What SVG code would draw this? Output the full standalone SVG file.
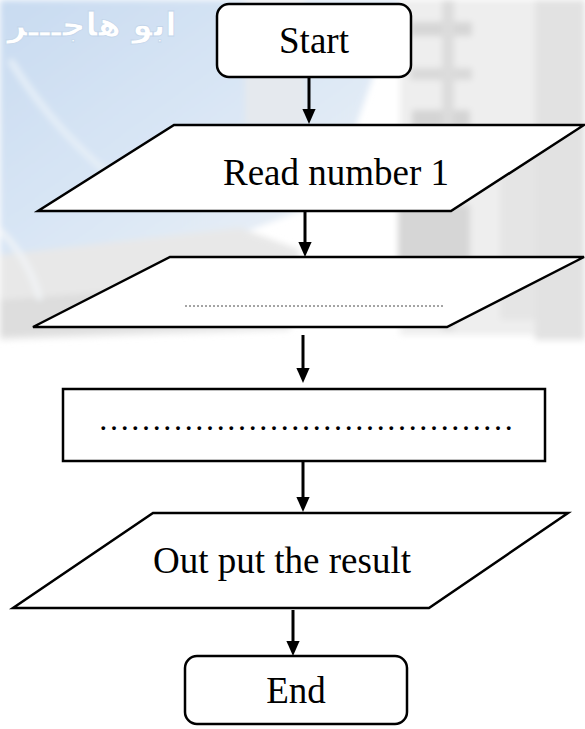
<svg xmlns="http://www.w3.org/2000/svg" width="585" height="729" viewBox="0 0 585 729">
  <style>
    .shape { fill: #ffffff; stroke: #000000; stroke-width: 2.5; stroke-linejoin: miter; }
    .label { font-family: "Liberation Serif", "Times New Roman", serif; font-size: 37px; fill: #000000; text-anchor: middle; }
    .dots { font-family: "Liberation Serif", "Times New Roman", serif; fill: #000000; text-anchor: middle; }
    .conn { stroke: #000000; stroke-width: 3; fill: none; marker-end: url(#head); }
    .blank { stroke: #4a4a4a; stroke-width: 1; stroke-dasharray: 2 2; fill: none; }
  </style>
  <defs>
    <linearGradient id="sky" x1="0" y1="0" x2="1" y2="0.9">
      <stop offset="0" stop-color="#c8dbf1"/>
      <stop offset="0.55" stop-color="#dbe7f5"/>
      <stop offset="1" stop-color="#eef2f6"/>
    </linearGradient>
    <filter id="soft" x="-5%" y="-5%" width="110%" height="110%">
      <feGaussianBlur stdDeviation="3"/>
    </filter>
    <marker id="head" markerWidth="5" markerHeight="4.4" refX="1" refY="2.2" orient="auto" markerUnits="strokeWidth">
      <path d="M0,0 L5,2.2 L0,4.4 Z" fill="#000000"/>
    </marker>
  </defs>

  <rect x="0" y="0" width="585" height="729" fill="#ffffff"/>

  <!-- faded backdrop: desktop computer -->
  <g id="backdrop" filter="url(#soft)">
    <polygon points="0,0 400,0 330,200 250,230 0,262" fill="url(#sky)"/>
    <rect x="245" y="0" width="60" height="125" fill="#e5e9ee"/>
    <rect x="400" y="0" width="185" height="335" fill="#eeeeee"/>
    <rect x="410" y="22" width="62" height="14" fill="#d6d6d6"/>
    <rect x="410" y="68" width="62" height="12" fill="#d9d9d9"/>
    <rect x="412" y="110" width="58" height="18" fill="#d4d4d4"/>
    <rect x="442" y="0" width="12" height="330" fill="#dcdcdc"/>
    <rect x="535" y="0" width="50" height="340" fill="#e2e2e2"/>
    <rect x="500" y="150" width="35" height="170" fill="#e5e5e5"/>
    <rect x="398" y="205" width="72" height="55" fill="#d6d6d6"/>
    <polygon points="0,255 240,228 300,250 290,330 0,340" fill="#e8e8e8"/>
    <polygon points="0,300 200,285 240,325 0,336" fill="#dddddd"/>
    <path d="M10,60 Q60,140 130,190" stroke="#e8f0f8" stroke-width="6" fill="none"/>
    <path d="M0,230 Q30,260 40,300" stroke="#f2f5f8" stroke-width="5" fill="none"/>
  </g>
  <text id="watermark" x="92" y="36" font-family="'DejaVu Sans', sans-serif" font-size="33" font-weight="bold" text-anchor="middle" direction="rtl" fill="#ffffff" stroke="#c3d5ea" stroke-width="0.8">ابو هاجـــر</text>

  <!-- connectors -->
  <g id="connectors">
    <line class="conn" x1="309" y1="77" x2="309" y2="112"/>
    <line class="conn" x1="305" y1="212" x2="305" y2="245"/>
    <line class="conn" x1="303" y1="335" x2="303" y2="371"/>
    <line class="conn" x1="303" y1="462" x2="303" y2="500"/>
    <line class="conn" x1="293" y1="610" x2="293" y2="644"/>
  </g>

  <!-- nodes -->
  <g id="start">
    <rect class="shape" x="217" y="4" width="194" height="73" rx="12"/>
    <text class="label" x="314" y="53">Start</text>
  </g>
  <g id="read-number">
    <polygon class="shape" points="174,125 584,125 451,211 38,211"/>
    <text class="label" x="336" y="185">Read number 1</text>
  </g>
  <g id="read-blank">
    <polygon class="shape" points="170,257 584,257 447,327 33,327"/>
    <line class="blank" x1="185" y1="306" x2="445" y2="306"/>
  </g>
  <g id="process">
    <rect class="shape" x="63" y="389" width="482" height="72"/>
    <text class="dots" x="306" y="430" font-size="32">&#8230;&#8230;&#8230;&#8230;&#8230;&#8230;&#8230;&#8230;&#8230;&#8230;&#8230;&#8230;&#8230;</text>
  </g>
  <g id="output">
    <polygon class="shape" points="153,513 568,513 429,608 13,608"/>
    <text class="label" x="282" y="573">Out put the result</text>
  </g>
  <g id="end">
    <rect class="shape" x="185" y="656" width="222" height="68" rx="12"/>
    <text class="label" x="296" y="703">End</text>
  </g>
</svg>
